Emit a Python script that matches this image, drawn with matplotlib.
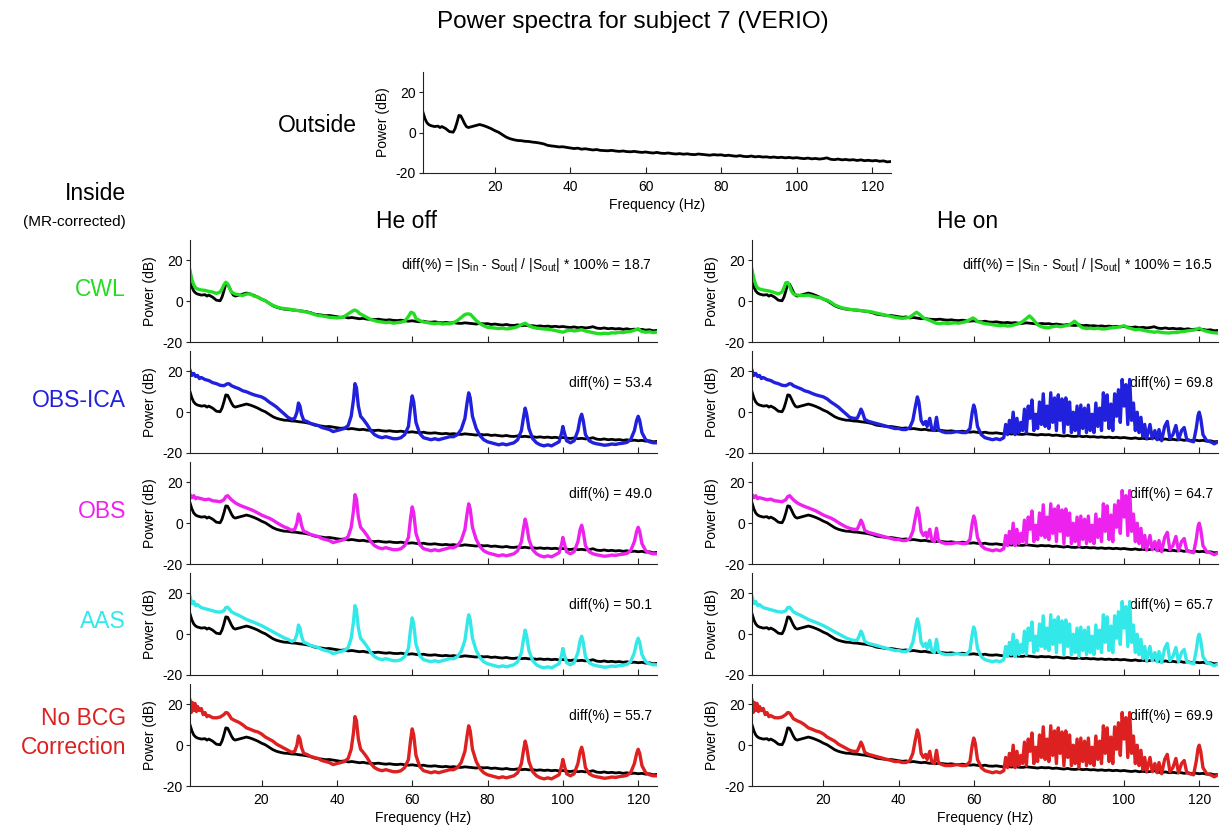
## Power spectra, subject 7 (VERIO): outside vs inside scanner, He pump off / on
import numpy as np
import matplotlib.pyplot as plt

plt.rcParams['font.family'] = ['Liberation Sans', 'DejaVu Sans']
plt.rcParams['mathtext.fontset'] = 'custom'
plt.rcParams['mathtext.rm'] = 'Liberation Sans'
plt.rcParams['mathtext.it'] = 'Liberation Sans:italic'
plt.rcParams['axes.unicode_minus'] = False

## Spectra as (frequency Hz, power dB)

# outside the scanner (reference, drawn in black on every panel)
outside = [(1, 10), (1.5, 7), (2, 5), (2.5, 4), (3, 3.5), (4, 3), (5, 3.2), (5.5, 2.5),
           (6, 3), (7, 2), (8, 0.5), (9, 0.2), (9.5, 2), (10, 5), (10.5, 8.5), (11, 8.3),
           (11.5, 6.5), (12, 4.5), (12.5, 3), (13, 2.5), (14, 3), (15, 3.5), (16, 4), (17, 3.5),
           (18, 2.8), (19, 2), (20, 1), (21, 0.2), (22, -1), (23, -2.2), (24, -3),
           (25, -3.5), (26, -3.9), (27, -4.0), (28, -4.3), (29, -4.4), (30, -4.7), (31, -4.9),
           (32, -5.2), (33, -5.6), (34, -6.3), (35, -6.6), (36, -6.8), (37, -7.1), (38, -7.0),
           (39, -7.3), (40, -7.6), (41, -7.9), (42, -7.7), (43, -8.2), (44, -8.0), (45, -8.3),
           (46, -8.6), (47, -8.4), (48, -8.8), (49, -8.9), (50, -9.0), (51, -8.8), (52, -9.1),
           (53, -9.3), (54, -9.1), (55, -9.4), (56, -9.5), (57, -9.3), (58, -9.6), (59, -9.8),
           (60, -9.6), (61, -9.9), (62, -10.1), (63, -9.8), (64, -10.2), (65, -10.3),
           (66, -10.1), (67, -10.4), (68, -10.6), (69, -10.4), (70, -10.7), (71, -10.5),
           (72, -10.8), (73, -10.9), (74, -10.6), (75, -10.8), (76, -11.0), (77, -11.2),
           (78, -10.9), (79, -11.1), (80, -11.0), (81, -11.4), (82, -11.2), (83, -11.5),
           (84, -11.7), (85, -11.4), (86, -11.8), (87, -11.9), (88, -11.6), (89, -12.0),
           (90, -11.8), (91, -12.1), (92, -12.0), (93, -12.3), (94, -12.1), (95, -12.4),
           (96, -12.2), (97, -12.5), (98, -12.3), (99, -12.6), (100, -12.4), (101, -12.7),
           (102, -12.9), (103, -12.6), (104, -13.0), (105, -12.8), (106, -13.1), (107, -12.9),
           (108, -12.5), (109, -13.2), (110, -13.4), (111, -13.1), (112, -13.5), (113, -13.3),
           (114, -13.6), (115, -13.4), (116, -13.8), (117, -13.5), (118, -13.9), (119, -13.7),
           (120, -14.0), (121, -13.8), (122, -14.2), (123, -14.0), (124, -14.5), (125, -14.3)]

# CWL, He off / He on
cwl_off = [(1, 15), (1.5, 10.5), (2, 8), (2.5, 6.5), (3, 6), (4, 5.5), (5, 5.3), (6, 4.8),
           (7, 4.5), (8, 3.8), (9, 4.5), (9.5, 6), (10, 8), (10.5, 9.3), (11, 8.5), (11.5, 6.5),
           (12, 4.5), (13, 3.5), (14, 3.2), (15, 2.8), (16, 3.5), (17, 3.6), (18, 2.5), (19, 2),
           (20, 1), (21, 0.3), (22, -1), (23, -2), (24, -2.8), (25, -3.3), (26, -3.6),
           (27, -3.8), (28, -4.1), (29, -4.5), (30, -4.6), (31, -5), (32, -5.4), (33, -5.8),
           (34, -6.5), (35, -7), (36, -7.2), (37, -7.5), (38, -7.9), (39, -8), (40, -8.2),
           (41, -8), (42, -7.5), (43, -6.2), (44, -5), (44.7, -4.3), (45.5, -5), (46, -6),
           (47, -7), (48, -8), (49, -9), (50, -9.5), (51, -10), (52, -10.2), (53, -10.5),
           (54, -10.3), (55, -10.8), (56, -10.5), (57, -10.3), (58, -9.8), (59, -7.5),
           (59.7, -5.4), (60.4, -6), (61, -8.5), (62, -9.5), (63, -10.2), (64, -10.5),
           (65, -10.8), (66, -11), (67, -10.7), (68, -11.2), (69, -11), (70, -11.1),
           (71, -10.5), (72, -9.5), (73, -8), (74, -6.5), (74.8, -6.2), (75.5, -6.5),
           (76, -7.5), (77, -9.5), (78, -11), (79, -12), (80, -12.8), (81, -13), (82, -13.2),
           (83, -13.4), (84, -13.2), (85, -13.6), (86, -13.4), (87, -13), (88, -12.5),
           (89, -11.5), (90, -10.8), (91, -12), (92, -12.8), (93, -13.2), (94, -13.4),
           (95, -13.6), (96, -13.8), (97, -14), (98, -14.4), (99, -14.8), (100, -15.2),
           (101, -14.5), (102, -14.2), (103, -14.6), (104, -14.3), (105, -14), (106, -14.6),
           (107, -15), (108, -15.4), (109, -15.8), (110, -16), (111, -15.7), (112, -15.9),
           (113, -15.5), (114, -15.6), (115, -15.2), (116, -15.4), (117, -15), (118, -14.8),
           (119, -14.2), (120, -13.5), (120.6, -14.5), (121, -14.8), (122, -15.2), (123, -15),
           (124, -15.4), (125, -15.1)]

cwl_on = [(1, 15.5), (1.5, 11), (2, 8), (2.5, 6.5), (3, 6), (4, 5.5), (5, 5.2), (6, 4.8),
          (7, 4.2), (8, 3.6), (9, 4.5), (9.5, 6.5), (10, 9), (10.5, 9.2), (11, 7.5), (11.5, 5),
          (12, 3.6), (13, 3), (14, 2.8), (15, 2.8), (16, 3), (17, 2.5), (18, 2), (19, 1.8),
          (20, 1.1), (21, 0.5), (22, -0.5), (23, -1.8), (24, -2.6), (25, -3.3), (26, -3.6),
          (27, -4), (28, -4.2), (29, -4.3), (30, -4.6), (31, -4.8), (32, -5), (33, -5.3),
          (34, -5.8), (35, -6.2), (36, -6.6), (37, -7), (38, -7.5), (39, -7.9), (40, -8.2),
          (41, -8.4), (42, -8.2), (43, -7.8), (44, -6.5), (44.8, -5.4), (45.6, -6.5),
          (46.5, -8), (47, -8.5), (48, -9.2), (49, -10), (50, -10.8), (51, -11), (52, -10.7),
          (53, -11), (54, -10.8), (55, -10.6), (56, -10.8), (57, -10.4), (58, -10), (59, -9),
          (59.8, -8.2), (60.5, -9), (61, -10), (62, -10.5), (63, -11), (64, -11.2),
          (65, -11.5), (66, -11.8), (67, -12), (68, -11.8), (69, -12.2), (70, -12),
          (71, -11.5), (72, -11), (73, -10), (74, -8.5), (74.8, -7.2), (75.6, -8.5),
          (76.5, -10.5), (77, -11.5), (78, -12.5), (79, -13), (80, -13), (81, -12.5),
          (82, -12.2), (83, -12.5), (84, -12.2), (85, -11.8), (86, -11), (86.8, -9.8),
          (87.6, -11), (88.5, -12.5), (89, -13), (90, -13.4), (91, -13.2), (92, -13.5),
          (93, -13.2), (94, -13.6), (95, -13.6), (96, -13.2), (97, -13), (98, -12.8),
          (99, -12.5), (100, -12), (101, -13), (102, -13.5), (103, -14), (104, -13.8),
          (105, -14.2), (106, -14.6), (107, -14.9), (108, -15.2), (109, -15), (110, -15.3),
          (111, -15.5), (112, -15.6), (113, -15.3), (114, -15.4), (115, -15), (116, -14.8),
          (117, -14.5), (118, -14.3), (119, -14), (120, -13.2), (121, -14.2), (122, -14.8),
          (123, -15.2), (124, -15.5), (125, -15.6)]

# low band (1-26 Hz) of the other corrections
obsica_low = [(1, 20.5), (1.5, 18), (2, 19), (2.5, 17.5), (3, 18), (3.5, 16.5), (4, 17),
              (5, 16), (6, 15.5), (7, 14.5), (8, 14), (9, 13.2), (10, 13), (10.5, 13.5),
              (11, 14), (11.5, 13.8), (12, 13), (13, 12.2), (14, 11.5), (15, 10.5), (16, 10),
              (17, 9.2), (18, 8.5), (19, 8), (20, 7.5), (21, 6.5), (22, 5), (23, 3.8),
              (24, 2.5), (25, 0.8), (26, -0.8)]
obs_low = [(1, 14), (1.5, 12.5), (2, 13.5), (2.5, 12), (3, 12.5), (4, 12), (5, 11.5),
           (6, 11.8), (7, 11), (8, 10.8), (9, 10.5), (10, 11.5), (10.5, 13), (11, 13.5),
           (11.5, 12.5), (12, 11.5), (13, 10), (14, 9), (15, 8.2), (16, 7.5), (17, 6.8),
           (18, 6), (19, 5), (20, 4), (21, 3.2), (22, 2.5), (23, 1.5), (24, 0.3), (25, -0.8),
           (26, -1.8)]
aas_low = [(1, 18.5), (1.5, 15), (2, 16), (2.5, 14), (3, 14.5), (4, 13), (5, 12.5), (6, 12),
           (7, 11.5), (8, 11), (9, 10.8), (10, 11.5), (10.5, 13), (11, 13.2), (11.5, 12.2),
           (12, 11), (13, 10), (14, 9.2), (15, 8.2), (16, 7.2), (17, 6.5), (18, 5.8), (19, 5),
           (20, 4.2), (21, 3.2), (22, 2.2), (23, 1.2), (24, 0.2), (25, -0.8), (26, -1.8)]
nobcg_low = [(1, 22), (1.3, 16), (1.6, 21), (2, 17), (2.3, 20.5), (2.7, 16.5), (3, 19),
             (3.5, 17), (4, 18), (4.5, 15), (5, 16), (5.5, 14), (6, 14.5), (7, 13.5),
             (8, 13.4), (9, 13.8), (10, 15), (10.5, 16), (11, 15.8), (11.5, 14.5), (12, 13),
             (13, 12), (14, 11.2), (15, 10), (16, 8.5), (17, 7.8), (18, 7), (19, 6.5),
             (20, 5.5), (21, 4), (22, 3), (23, 2), (24, 0.5), (25, -0.5), (26, -1.5)]

# high band (27-125 Hz), He pump off: residual gradient peaks
he_off_high = [(27, -2.5), (28, -3.5), (28.8, -3), (29.4, 0), (29.8, 4.5), (30.2, 3),
               (30.6, -1), (31.2, -4), (32, -4.5), (33, -5.5), (34, -6), (35, -6.5),
               (36, -7.5), (37, -8), (38, -8.5), (39, -9.5), (40, -9), (41, -8.5), (42, -8),
               (43, -6.5), (43.8, -2), (44.4, 6), (44.8, 14), (45.2, 12), (45.7, 3),
               (46.3, -2), (47, -3.5), (48, -6), (49, -9), (50, -11), (51, -12), (52, -12.5),
               (53, -12), (54, -12.5), (55, -13), (56, -13), (57, -12.5), (58, -11), (59, -7),
               (59.6, 3), (60, 8), (60.4, 5), (61, -5), (62, -10.5), (63, -12.5), (64, -13),
               (65, -13.5), (66, -13), (67, -13.5), (68, -13), (69, -12.5), (70, -12),
               (71, -12), (72, -11), (73, -8.5), (74, -3), (74.6, 5), (75, 9.5), (75.4, 7),
               (76, -2), (77, -8), (78, -11.5), (79, -13.5), (80, -14.5), (81, -15),
               (82, -15.5), (83, -16), (84, -15.5), (85, -16), (86, -15.5), (87, -15),
               (88, -13.5), (89, -9), (89.6, -2), (90, 2), (90.4, -1), (91, -8), (92, -13),
               (93, -15), (94, -16), (95, -16.5), (96, -16), (97, -16.5), (98, -15.5),
               (99, -14.5), (99.7, -10), (100, -7), (100.4, -10), (101, -14), (102, -15),
               (103, -14), (104, -9), (104.6, -3), (105, -1), (105.4, -4), (106, -11),
               (107, -14), (108, -15), (109, -15.5), (110, -15.8), (111, -16.2), (112, -16),
               (113, -15.6), (114, -15.8), (115, -15.4), (116, -15.2), (117, -14.8),
               (118, -13.5), (119, -9), (119.6, -4), (120, -2), (120.4, -4), (121, -10),
               (122, -13.5), (123, -14.5), (124, -15), (125, -15)]

# high band (27-125 Hz), He pump on: dense pump harmonics between 68 and 106 Hz
he_on_high = [(27, -2.5), (28, -3), (29, -3), (29.6, -0.5), (30, 1.5), (30.4, 0), (31, -3.5),
              (32, -4.5), (33, -5), (34, -5.5), (35, -6), (36, -6.5), (37, -7), (38, -7.5),
              (39, -8), (40, -8), (41, -8.5), (42, -8.5), (43, -7.5), (43.8, -4), (44.5, 3),
              (45, 7.5), (45.4, 5), (46, -4), (46.6, -6), (47.2, -4.5), (47.6, -7),
              (48.3, -3), (48.8, -8), (49.5, -9), (50.1, -2.5), (50.6, -8.5), (51.5, -9.5),
              (52.5, -10), (54, -10), (55.5, -9.5), (57, -10), (58, -10), (59, -8),
              (59.6, 0), (60, 3.5), (60.4, 1), (61, -7), (62, -11), (63, -12.5), (64, -13),
              (65, -13.5), (66, -13), (67, -13.5), (68, -12.5),
              (68.5, -6), (69.0, -11), (69.5, -4), (70.0, -10), (70.5, 0), (71.0, -11),
              (71.5, -3), (72.0, -10), (72.5, -5), (73.0, -9), (73.5, 1.5), (74.0, -10),
              (74.5, 3), (75.0, -3), (75.5, 6), (76.0, -9), (76.5, -1), (77.0, -8),
              (77.5, 5), (78.0, -6), (78.5, 9), (79.0, -7), (79.5, 3), (80.0, -8),
              (80.5, 9.5), (81.0, -5), (81.5, 7), (82.0, -9), (82.5, 8.5), (83.0, -4),
              (83.5, 6.5), (84.0, -10), (84.5, 7), (85.0, -6), (85.5, 5), (86.0, -10),
              (86.5, 0), (87.0, -9), (87.5, 3), (88.0, -11), (88.5, 3.5), (89.0, -8),
              (89.5, 2), (90.0, -10), (90.5, 3.5), (91.0, -9), (91.5, -1), (92.0, -10),
              (92.5, 4.5), (93.0, -7), (93.5, 2), (94.0, -9), (94.5, 9.5), (95.0, -4),
              (95.5, 8.5), (96.0, -8), (96.5, 4), (97.0, -9), (97.5, 9), (98.0, -2),
              (98.5, 11), (99.0, -5), (99.5, 16), (100.0, 3), (100.5, 13.5), (101.0, -6),
              (101.5, 16), (102.0, -4), (102.5, 4.5), (103.0, -9), (103.5, 0), (104.0, -10),
              (104.5, -2.5), (105.0, -12), (105.5, -6), (106, -13), (106.9, -6),
              (107.5, -13), (108.2, -9), (108.8, -13.5), (109.3, -8.5), (110, -14),
              (110.8, -7), (111.5, -4.5), (112.2, -13), (113, -11), (113.8, -6.5),
              (114.5, -13.5), (115.3, -9), (116, -7.5), (116.7, -13.5), (117.5, -14),
              (118.5, -14.5), (119.2, -8), (119.7, -1.5), (120, 0), (120.4, -3), (121, -11),
              (122, -14), (123, -14.5), (124, -15.5), (125, -14.5)]

## Rows: name, colour, low band, diff(%) for He off / He on
methods = ['CWL', 'OBS-ICA', 'OBS', 'AAS', 'No BCG\nCorrection']
colors = ['#22dd22', '#2020dd', '#ee22ee', '#33e8e8', '#dd2020']
low_bands = [None, obsica_low, obs_low, aas_low, nobcg_low]
diff_off = ['18.7', '53.4', '49.0', '50.1', '55.7']
diff_on = ['16.5', '69.8', '64.7', '65.7', '69.9']

freq_ticks = [20, 40, 60, 80, 100, 120]
power_ticks = [-20, 0, 20]

W, H = 1221, 832
fig = plt.figure(figsize=(W / 100, H / 100), dpi=100)


def add_panel(left, top, width, height=102):
    ax = fig.add_axes([left / W, 1 - (top + height) / H, width / W, height / H])
    ax.set_xlim(1, 125)
    ax.set_ylim(-20, 30)
    ax.set_xticks(freq_ticks)
    ax.set_yticks(power_ticks)
    ax.spines['top'].set_visible(False)
    ax.spines['right'].set_visible(False)
    for s in ('left', 'bottom'):
        ax.spines[s].set_color('#222222')
        ax.spines[s].set_linewidth(0.8)
    ax.tick_params(axis='x', direction='in', length=4, labelsize=10, pad=5, color='#222222')
    ax.tick_params(axis='y', direction='out', length=3, labelsize=10, pad=2, color='#222222')
    ax.set_ylabel('Power (dB)', fontsize=10, labelpad=4)
    return ax


def draw(ax, pts, color, lw):
    f, p = np.array(pts).T
    ax.plot(f, p, color=color, lw=lw, solid_joinstyle='round')


## Outside panel
ax = add_panel(423, 72, 468, 101)
draw(ax, outside, 'k', 2.0)
ax.set_xlabel('Frequency (Hz)', fontsize=10, labelpad=3)

## Inside panels (He off left, He on right)
col_left = [190, 752]
col_width = [467, 466]
row_tops = [240, 351, 462, 573, 684]

for i, name in enumerate(methods):
    if low_bands[i] is None:
        series = [cwl_off, cwl_on]
    else:
        series = [low_bands[i] + he_off_high, low_bands[i] + he_on_high]
    diffs = [diff_off[i], diff_on[i]]
    for j in range(2):
        ax = add_panel(col_left[j], row_tops[i], col_width[j])
        draw(ax, outside, 'k', 2.0)
        draw(ax, series[j], colors[i], 2.4)
        if i == 0:
            label = ('diff(%) = |S$_\\mathrm{in}$ - S$_\\mathrm{out}$| / |S$_\\mathrm{out}$|'
                     ' * 100% = ' + diffs[j])
            ypos = 17.5
        else:
            label = 'diff(%) = ' + diffs[j]
            ypos = 14.5
        ax.text(0.99, ypos, label, transform=ax.get_yaxis_transform(),
                ha='right', va='center', fontsize=10, zorder=1)
        if i < len(methods) - 1:
            ax.tick_params(axis='x', labelbottom=False)
        else:
            ax.set_xlabel('Frequency (Hz)', fontsize=10, labelpad=3)

    yc = 1 - (row_tops[i] + 49) / H
    fig.text(126 / W, yc, name, color=colors[i], fontsize=16.5,
             ha='right', va='center', linespacing=1.3)

## Headings
fig.text(633 / W, 1 - 22 / H, 'Power spectra for subject 7 (VERIO)', fontsize=17.5,
         ha='center', va='center')
fig.text(317 / W, 1 - 125 / H, 'Outside', fontsize=16.5, ha='center', va='center')
fig.text(126 / W, 1 - 193 / H, 'Inside', fontsize=16.5, ha='right', va='center')
fig.text(126 / W, 1 - 222 / H, '(MR-corrected)', fontsize=11, ha='right', va='center')
fig.text(407 / W, 1 - 222 / H, 'He off', fontsize=16.5, ha='center', va='center')
fig.text(968 / W, 1 - 222 / H, 'He on', fontsize=16.5, ha='center', va='center')

plt.savefig('out.png', dpi=100)
plt.close()
